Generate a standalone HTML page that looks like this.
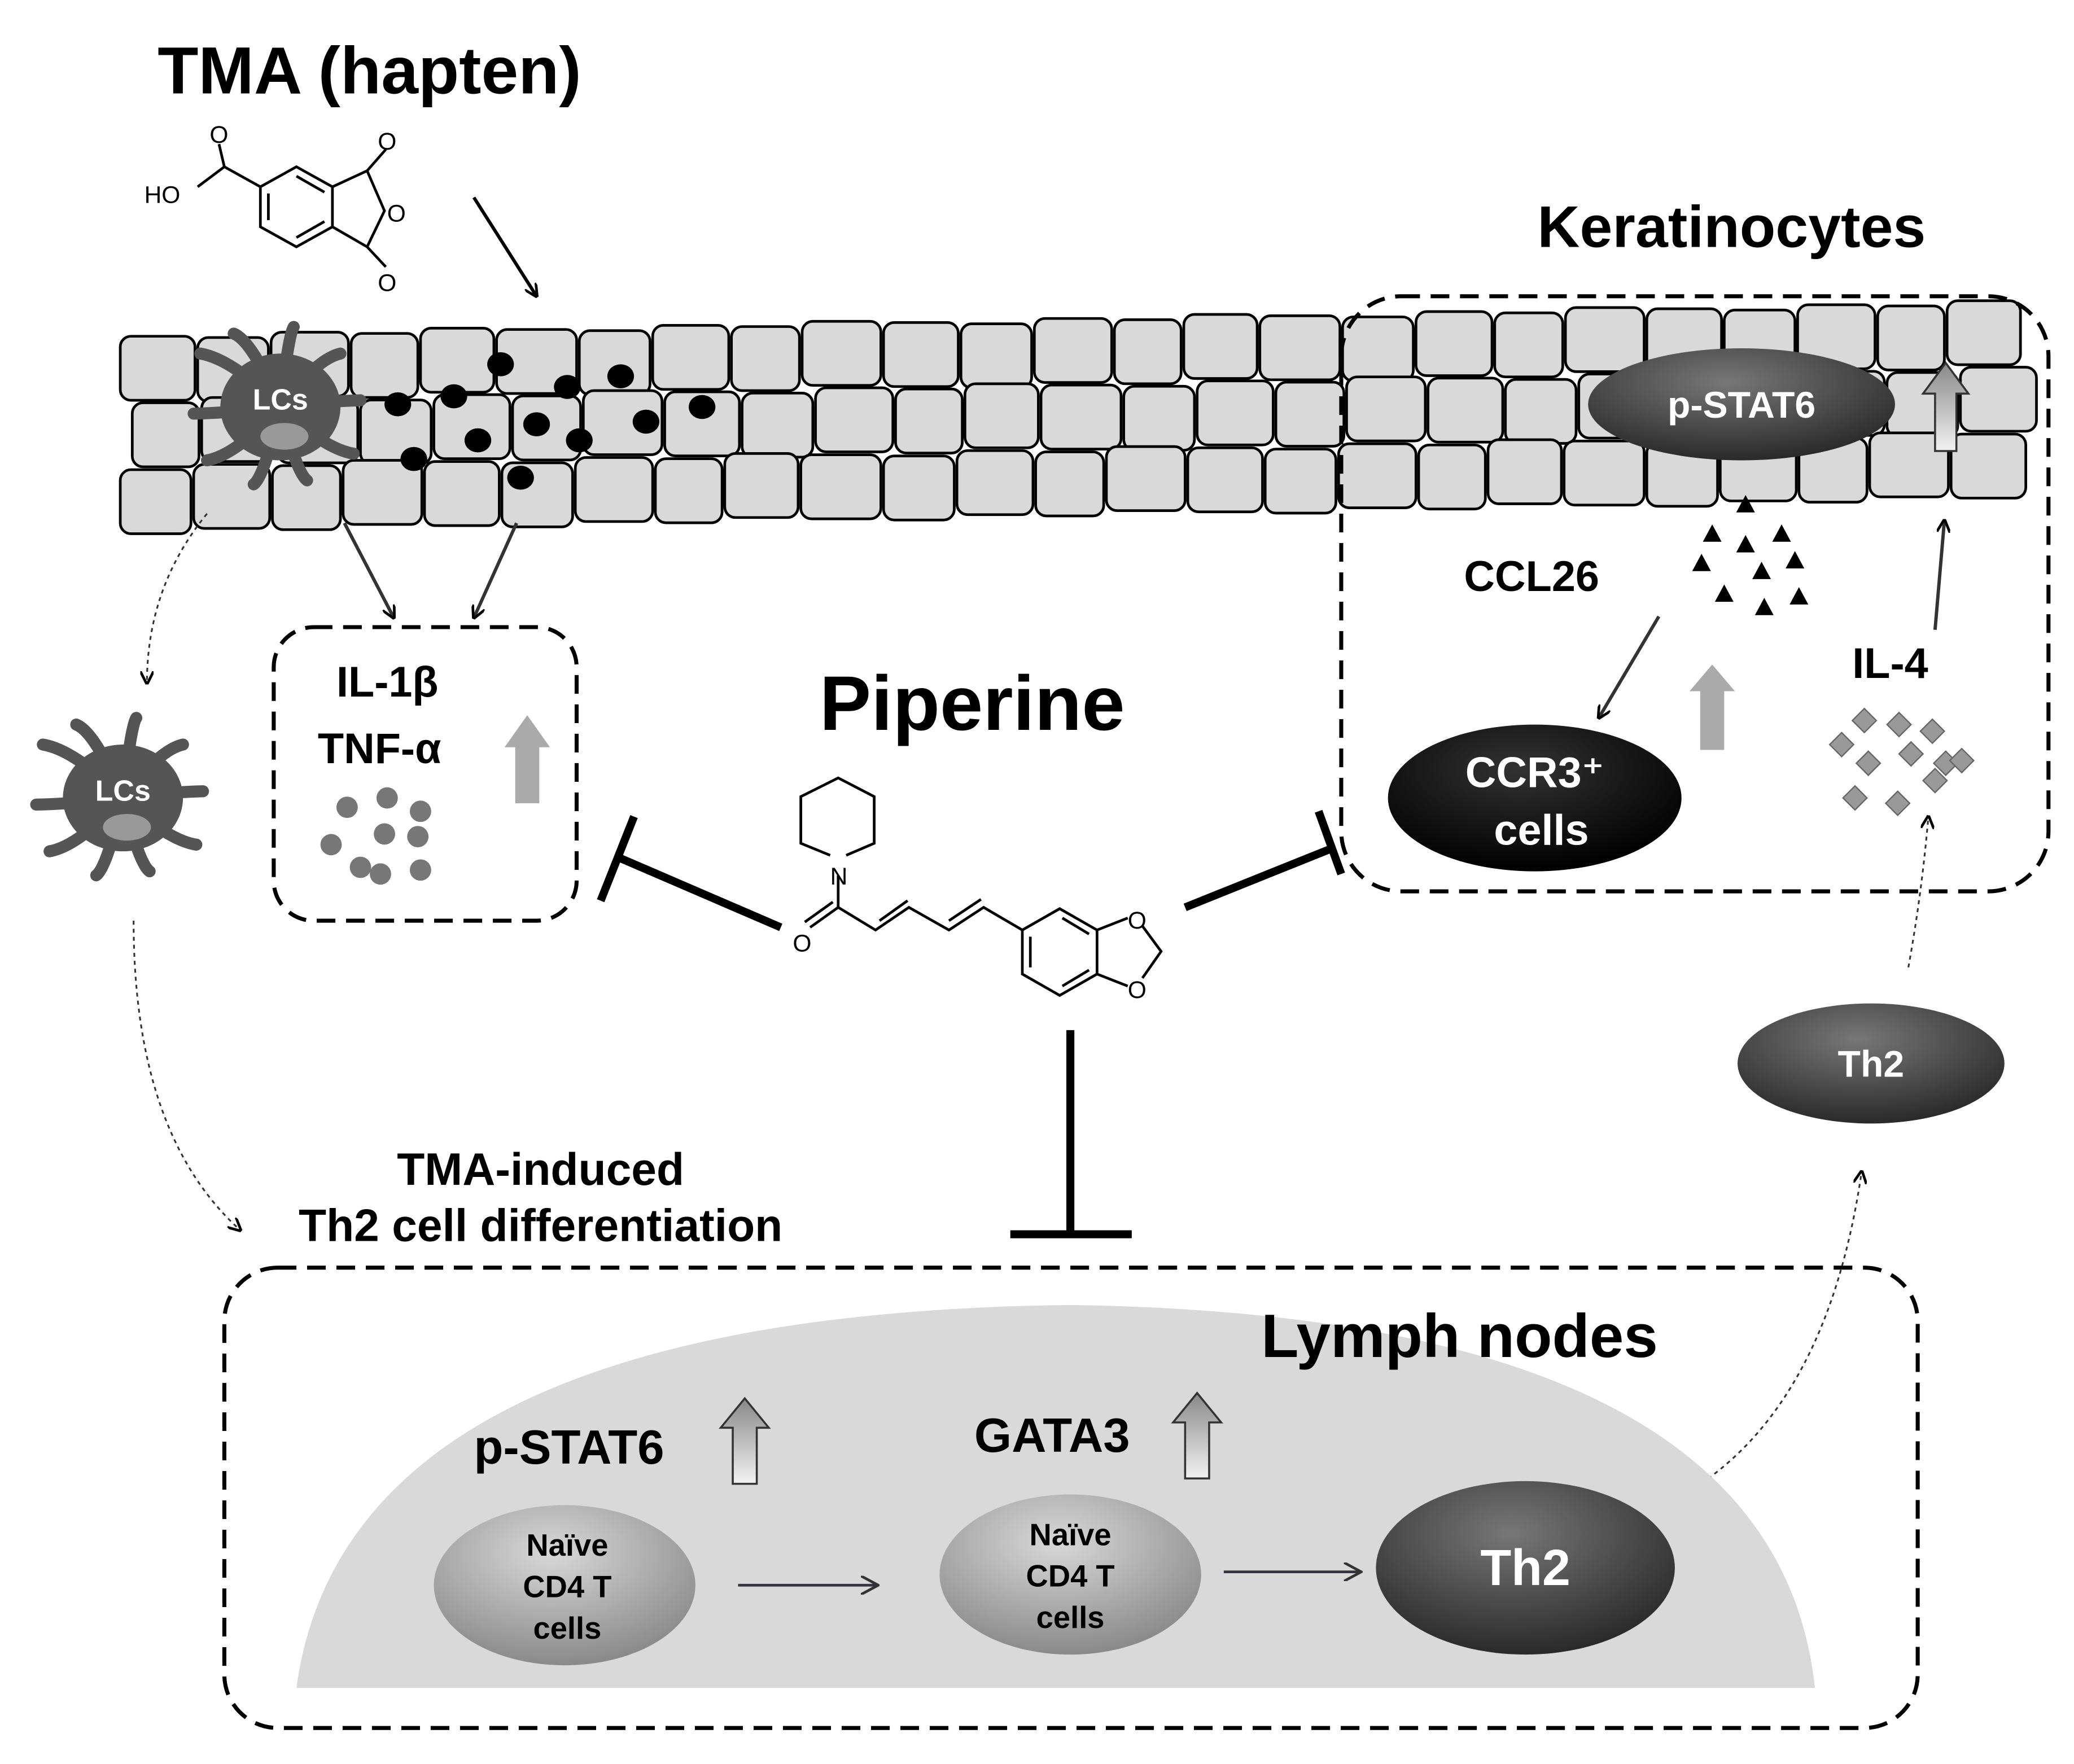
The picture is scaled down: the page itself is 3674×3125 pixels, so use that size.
<!DOCTYPE html>
<html><head><meta charset="utf-8"><style>
html,body{margin:0;padding:0;background:#fff}
svg{display:block}
text{font-family:"Liberation Sans","DejaVu Sans",sans-serif;font-weight:bold}
</style></head><body>
<svg id="s" width="3674" height="3125" viewBox="0 0 1554 1322" xmlns="http://www.w3.org/2000/svg">
<defs>
<radialGradient id="g1" cx="45%" cy="30%" r="70%"><stop offset="0" stop-color="#d8d8d8"/><stop offset="1" stop-color="#8a8a8a"/></radialGradient>
<radialGradient id="g2" cx="45%" cy="30%" r="70%"><stop offset="0" stop-color="#777"/><stop offset="1" stop-color="#2a2a2a"/></radialGradient>
<radialGradient id="g3" cx="45%" cy="30%" r="70%"><stop offset="0" stop-color="#333"/><stop offset="1" stop-color="#000"/></radialGradient>
<linearGradient id="ga" x1="0" x2="0" y1="0" y2="1"><stop offset="0" stop-color="#888"/><stop offset="1" stop-color="#f2f2f2"/></linearGradient>
<marker id="ah" markerWidth="10" markerHeight="10" refX="9" refY="5" orient="auto" markerUnits="userSpaceOnUse"><path d="M0,0 L10,5 L0,10" fill="none" stroke="#000" stroke-width="2"/></marker>
<marker id="ah2" markerWidth="14" markerHeight="14" refX="13" refY="7" orient="auto" markerUnits="userSpaceOnUse"><path d="M0,0 L13,7 L0,14" fill="none" stroke="#333" stroke-width="2"/></marker>
</defs>
<g id="cells"></g>
<!-- TMA -->
<text x="118" y="70" font-size="50">TMA (hapten)</text>
<g stroke="#000" stroke-width="2" fill="none">
<polygon points="195,140 222,125 249,140 249,170 222,185 195,170"/>
<line x1="201" y1="145" x2="201" y2="165"/><line x1="222" y1="132" x2="243" y2="144"/><line x1="222" y1="178" x2="243" y2="166"/>
<polyline points="249,140 275,128 288,158 275,185 249,170"/>
<line x1="275" y1="128" x2="289" y2="112"/><line x1="275" y1="185" x2="289" y2="200"/>
<line x1="195" y1="140" x2="168" y2="125"/><line x1="168" y1="125" x2="164" y2="108"/><line x1="168" y1="125" x2="148" y2="140"/>
</g>
<g font-size="18"><text x="157" y="107" style="font-weight:normal">O</text><text x="283" y="112" style="font-weight:normal">O</text><text x="290" y="166" style="font-weight:normal">O</text><text x="283" y="218" style="font-weight:normal">O</text><text x="108" y="152" style="font-weight:normal">HO</text></g>
<line x1="355" y1="148" x2="402" y2="222" stroke="#000" stroke-width="2.5" marker-end="url(#ah)"/>
<!-- dots -->
<g fill="#000">
<ellipse cx="375" cy="273" rx="10" ry="9"/><ellipse cx="465" cy="282" rx="10" ry="9"/><ellipse cx="425" cy="290" rx="10" ry="9"/><ellipse cx="298" cy="303" rx="10" ry="9"/><ellipse cx="340" cy="297" rx="10" ry="9"/><ellipse cx="402" cy="318" rx="10" ry="9"/><ellipse cx="358" cy="330" rx="10" ry="9"/><ellipse cx="434" cy="330" rx="10" ry="9"/><ellipse cx="484" cy="316" rx="10" ry="9"/><ellipse cx="526" cy="305" rx="10" ry="9"/><ellipse cx="310" cy="344" rx="10" ry="9"/><ellipse cx="390" cy="358" rx="10" ry="9"/>
</g>
<g id="lc1"></g><g id="lc2"></g>
<!-- dotted arrows -->
<g stroke="#333" stroke-width="1.3" stroke-dasharray="3,3" fill="none">
<path d="M155,385 Q110,440 110,512" marker-end="url(#ah)"/>
<path d="M100,690 Q100,850 180,922" marker-end="url(#ah)"/>
<path d="M1270,1115 Q1370,1050 1395,878" marker-end="url(#ah)"/>
<path d="M1430,725 Q1440,670 1445,612" marker-end="url(#ah)"/>
</g>
<line x1="258" y1="392" x2="295" y2="463" stroke="#333" stroke-width="2.5" marker-end="url(#ah)"/>
<line x1="387" y1="392" x2="355" y2="463" stroke="#333" stroke-width="2.5" marker-end="url(#ah)"/>
<!-- IL box -->
<rect x="205" y="470" width="227" height="220" rx="30" fill="none" stroke="#000" stroke-width="3" stroke-dasharray="14,8"/>
<text x="252" y="522" font-size="32">IL-1β</text>
<text x="238" y="572" font-size="32">TNF-α</text>
<path d="M386,602 V560 H378 L395,536 L412,560 H404 V602 Z" fill="#aaa"/>
<g fill="#777"><circle cx="260" cy="605" r="8"/><circle cx="290" cy="598" r="8"/><circle cx="315" cy="608" r="8"/><circle cx="248" cy="633" r="8"/><circle cx="288" cy="625" r="8"/><circle cx="313" cy="627" r="8"/><circle cx="270" cy="650" r="8"/><circle cx="285" cy="655" r="8"/><circle cx="315" cy="652" r="8"/></g>
<!-- Piperine -->
<text x="614" y="547" font-size="58">Piperine</text>
<g stroke="#000" stroke-width="2" fill="none">
<polyline points="622,641 600,632 600,597 628,583 655,597 655,632 634,641"/>
<line x1="628" y1="656" x2="628" y2="680"/>
<line x1="628" y1="680" x2="607" y2="695"/><line x1="624" y1="676" x2="603" y2="691"/>
<polyline points="628,680 656,697 681,680 711,697 737,680 766,697"/>
<line x1="659" y1="690" x2="680" y2="675"/><line x1="711" y1="690" x2="735" y2="674"/>
<polygon points="766,697 794,681 822,697 822,730 794,746 766,730"/>
<line x1="772" y1="702" x2="772" y2="725"/><line x1="796" y1="688" x2="816" y2="700"/><line x1="796" y1="739" x2="816" y2="727"/>
<line x1="822" y1="697" x2="845" y2="688"/><line x1="822" y1="730" x2="845" y2="739"/>
<polyline points="856,694 870,713 856,733"/>
</g>
<text x="622" y="663" font-size="18" style="font-weight:normal">N</text>
<text x="594" y="713" font-size="18" style="font-weight:normal">O</text>
<text x="845" y="696" font-size="18" style="font-weight:normal">O</text>
<text x="845" y="748" font-size="18" style="font-weight:normal">O</text>
<g stroke="#000" stroke-width="6">
<line x1="585" y1="695" x2="462" y2="642"/><line x1="475" y1="612" x2="450" y2="675"/>
<line x1="888" y1="680" x2="1000" y2="635"/><line x1="988" y1="608" x2="1005" y2="655"/>
<line x1="802" y1="772" x2="802" y2="925"/><line x1="757" y1="925" x2="848" y2="925"/>
</g>
<!-- keratinocyte box -->
<text x="1152" y="185" font-size="44">Keratinocytes</text>
<rect x="1005" y="222" width="530" height="446" rx="45" fill="none" stroke="#000" stroke-width="3" stroke-dasharray="14,8"/>
<ellipse cx="1305" cy="303" rx="115" ry="42" fill="url(#g2)"/>
<text x="1305" y="313" font-size="28" fill="#fff" text-anchor="middle">p-STAT6</text>
<path d="M1450,338 V295 H1441 L1458,272 L1475,295 H1466 V338 Z" fill="url(#ga)" stroke="#333" stroke-width="1.5"/>
<text x="1097" y="443" font-size="32">CCL26</text>
<g fill="#000" id="tri"></g>
<line x1="1243" y1="462" x2="1198" y2="538" stroke="#333" stroke-width="2.5" marker-end="url(#ah)"/>
<path d="M1274,562 V518 H1266 L1283,498 L1300,518 H1292 V562 Z" fill="#aaa"/>
<ellipse cx="1150" cy="598" rx="110" ry="55" fill="url(#g3)"/>
<text x="1150" y="590" font-size="32" fill="#fff" text-anchor="middle">CCR3⁺</text>
<text x="1155" y="633" font-size="32" fill="#fff" text-anchor="middle">cells</text>
<text x="1388" y="508" font-size="32">IL-4</text>
<line x1="1450" y1="472" x2="1457" y2="390" stroke="#333" stroke-width="2.5" marker-end="url(#ah)"/>
<g fill="#999" stroke="#666" stroke-width="1" id="dia"></g>
<ellipse cx="1402" cy="797" rx="100" ry="45" fill="url(#g2)"/>
<text x="1402" y="807" font-size="28" fill="#fff" text-anchor="middle">Th2</text>
<!-- lymph -->
<text x="405" y="888" font-size="34" text-anchor="middle">TMA-induced</text>
<text x="405" y="930" font-size="34" text-anchor="middle">Th2 cell differentiation</text>
<path d="M222,1265 Q260,985 800,978 Q1330,985 1360,1265 Z" fill="#d9d9d9"/>
<rect x="168" y="950" width="1269" height="345" rx="40" fill="none" stroke="#000" stroke-width="3" stroke-dasharray="14,8"/>
<text x="945" y="1017" font-size="46">Lymph nodes</text>
<text x="355" y="1097" font-size="36">p-STAT6</text>
<path d="M549,1112 V1070 H540 L558,1048 L576,1070 H567 V1112 Z" fill="url(#ga)" stroke="#333" stroke-width="1.5"/>
<text x="730" y="1088" font-size="36">GATA3</text>
<path d="M888,1108 V1066 H879 L897,1044 L915,1066 H906 V1108 Z" fill="url(#ga)" stroke="#333" stroke-width="1.5"/>
<ellipse cx="423" cy="1188" rx="98" ry="60" fill="url(#g1)"/>
<text x="425" y="1166" font-size="23" text-anchor="middle">Naïve</text><text x="425" y="1197" font-size="23" text-anchor="middle">CD4 T</text><text x="425" y="1228" font-size="23" text-anchor="middle">cells</text>
<ellipse cx="802" cy="1180" rx="98" ry="60" fill="url(#g1)"/>
<text x="802" y="1158" font-size="23" text-anchor="middle">Naïve</text><text x="802" y="1189" font-size="23" text-anchor="middle">CD4 T</text><text x="802" y="1220" font-size="23" text-anchor="middle">cells</text>
<ellipse cx="1143" cy="1175" rx="112" ry="65" fill="url(#g2)"/>
<text x="1143" y="1188" font-size="38" fill="#fff" text-anchor="middle">Th2</text>
<line x1="553" y1="1188" x2="658" y2="1188" stroke="#334" stroke-width="2" marker-end="url(#ah2)"/>
<line x1="917" y1="1178" x2="1020" y2="1178" stroke="#334" stroke-width="2" marker-end="url(#ah2)"/>
</svg>
<script>
var NS="http://www.w3.org/2000/svg";
function el(p,t,a){var e=document.createElementNS(NS,t);for(var k in a)e.setAttribute(k,a[k]);p.appendChild(e);return e;}
var c=document.getElementById("cells");
var rows=[[90,0],[94,1],[90,2]];
var widths=[58,55,60,52,57,62,55,59,53,61];
rows.forEach(function(r,ri){
  var x=r[0]+(ri==1?5:0),i=ri*3;
  while(x<1520){
    var w=widths[i%widths.length];i++;
    var base=252-(x-90)*0.018+ri*49+((i*7)%5)-2;
    if(x+w>1530)w=1530-x;
    if(w>20)el(c,"rect",{x:x,y:base,width:w-2,height:48,rx:8,fill:"#d9d9d9",stroke:"#000","stroke-width":2});
    x+=w;
  }
});
function lc(g,cx,cy,s){
  var grp=document.getElementById(g);
  var arms=[[-60,-40],[-35,-55],[10,-60],[45,-40],[60,-5],[55,35],[20,55],[-20,58],[-55,40],[-65,5]];
  arms.forEach(function(a){el(grp,"path",{d:"M"+cx+","+cy+" Q"+(cx+a[0]*0.6*s)+","+(cy+a[1]*0.9*s)+" "+(cx+a[0]*s)+","+(cy+a[1]*s),stroke:"#555","stroke-width":9*s,fill:"none","stroke-linecap":"round"});});
  el(grp,"ellipse",{cx:cx,cy:cy,rx:45*s,ry:40*s,fill:"#555"});
  el(grp,"ellipse",{cx:cx+3*s,cy:cy+22*s,rx:18*s,ry:10*s,fill:"#999"});
  var t=el(grp,"text",{x:cx,y:cy+2*s,"font-size":22*s,fill:"#fff","text-anchor":"middle"});t.textContent="LCs";
}
lc("lc1",210,305,1);lc("lc2",92,598,1);
var tri=document.getElementById("tri");
[[1308,378],[1283,400],[1308,408],[1335,400],[1275,422],[1320,428],[1345,420],[1292,445],[1322,455],[1348,447]].forEach(function(p){el(tri,"polygon",{points:(p[0]-7)+","+(p[1]+6)+" "+(p[0]+7)+","+(p[1]+6)+" "+p[0]+","+(p[1]-7)});});
var dia=document.getElementById("dia");
[[1397,540],[1423,543],[1448,548],[1380,558],[1400,572],[1432,565],[1458,572],[1470,570],[1390,598],[1422,602],[1450,585]].forEach(function(p){el(dia,"polygon",{points:(p[0]-9)+","+p[1]+" "+p[0]+","+(p[1]-9)+" "+(p[0]+9)+","+p[1]+" "+p[0]+","+(p[1]+9)});});
</script>
</body></html>
